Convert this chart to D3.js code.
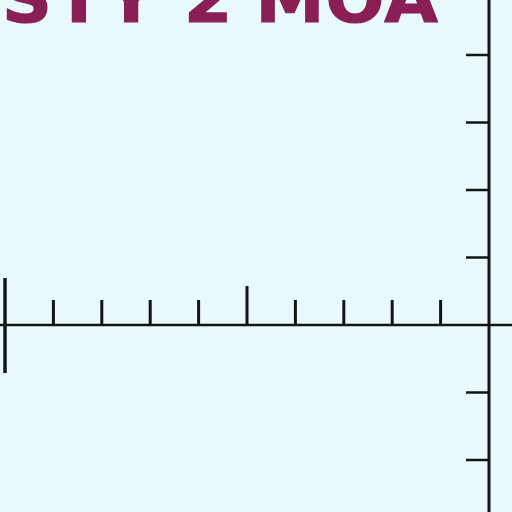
<!DOCTYPE html>
<html><head><meta charset="utf-8">
<script src="https://cdn.jsdelivr.net/npm/d3@7"></script>
<style>html,body{margin:0;padding:0;background:#e8fafd;}svg{display:block;}</style>
</head><body>
<script>
const title = "STY 2 MOA";
const xTicks = [1,2,3,4,5,6,7,8,9];
const xMajor = [5];
const yTicks = [4,3,2,1,-1,-2];
const W = 512, H = 512;
const svg = d3.select("body").append("svg").attr("width",W).attr("height",H);
svg.append("rect").attr("width",W).attr("height",H).attr("fill","#e8fafd");
const x = d3.scaleLinear().domain([0,10]).range([5,489]);
const y = d3.scaleLinear().domain([0,1]).range([325,257.5]);
const ink = "#141414";
// title (clipped at the top edge, as in the reference), letters spread widely
const sx = 1.05;
const glyphCentres = [27, 79, 131, null, 208, null, 290, 355, 411];
const chars = title.split("").map((c,i)=>({c, cx: glyphCentres[i]})).filter(d=>d.c!==" ");
const tg = svg.append("text").attr("y",22)
  .attr("transform",`scale(${sx},1)`)
  .attr("font-family","DejaVu Sans").attr("font-weight","bold").attr("font-size",66)
  .attr("fill","#8a1f55").attr("stroke","#8a1f55").attr("stroke-width",1.2);
tg.selectAll("tspan").data(chars).enter().append("tspan")
  .attr("x",d=>d.cx/sx).attr("text-anchor","middle").text(d=>d.c);
// horizontal axis line
svg.append("line").attr("x1",0).attr("x2",W).attr("y1",y(0)).attr("y2",y(0)).attr("stroke",ink).attr("stroke-width",2.5);
// vertical axis line
svg.append("line").attr("x1",x(10)).attr("x2",x(10)).attr("y1",0).attr("y2",H).attr("stroke",ink).attr("stroke-width",3);
// left post
svg.append("line").attr("x1",x(0)).attr("x2",x(0)).attr("y1",278).attr("y2",373).attr("stroke",ink).attr("stroke-width",3.5);
// x ticks
svg.selectAll(".xt").data(xTicks).enter().append("line")
  .attr("x1",d=>x(d)).attr("x2",d=>x(d)).attr("y1",y(0))
  .attr("y2",d=>xMajor.includes(d)?286:300)
  .attr("stroke",ink).attr("stroke-width",3);
// y ticks
svg.selectAll(".yt").data(yTicks).enter().append("line")
  .attr("x1",466).attr("x2",x(10)).attr("y1",d=>y(d)).attr("y2",d=>y(d))
  .attr("stroke",ink).attr("stroke-width",2.5);
</script>
</body></html>
